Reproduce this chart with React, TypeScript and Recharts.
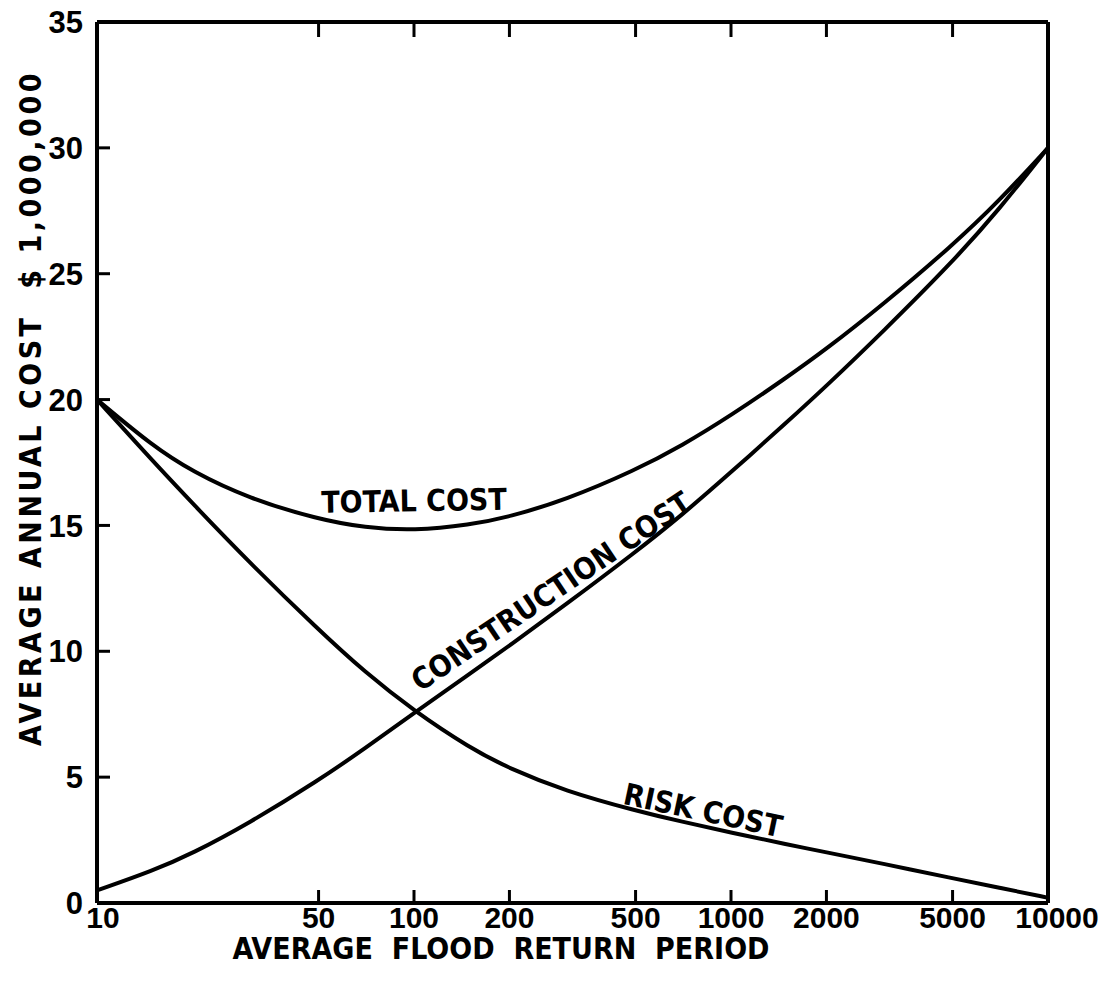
import React from 'react';
import { LineChart, Line, XAxis, YAxis, ReferenceDot, Label } from 'recharts';

const returnPeriod = [10, 15, 20, 30, 50, 70, 100, 150, 200, 300, 500, 700, 1000, 1500, 2000, 3000, 5000, 7000, 10000];
const totalCost = [20, 18.15, 17.14, 16.08, 15.24, 14.91, 14.79, 15.02, 15.34, 16.01, 17.2, 18.17, 19.37, 20.88, 22.01, 23.75, 26.13, 27.88, 30];
const constructionCost = [0.5, 1.28, 1.97, 3.15, 4.87, 6.14, 7.54, 9.11, 10.22, 11.84, 13.94, 15.41, 17.11, 19.1, 20.54, 22.67, 25.47, 27.54, 30];
const riskCost = [20, 17.55, 15.88, 13.57, 10.85, 9.17, 7.63, 6.16, 5.34, 4.45, 3.67, 3.23, 2.8, 2.33, 2.01, 1.57, 0.98, 0.61, 0.21];

const xTicks = [10, 50, 100, 200, 500, 1000, 2000, 5000, 10000];
const xInnerTicks = [50, 100, 200, 500, 1000, 2000, 5000];
const yTicks = [0, 5, 10, 15, 20, 25, 30, 35];
const yLeftInnerTicks = [5, 10, 15, 20, 25, 30];
const yRightInnerTicks = [5, 10, 15, 20, 25];

const curveLabels = [
  { text: 'TOTAL COST', x: 100, y: 16.0, angle: -1 },
  { text: 'CONSTRUCTION COST', x: 270, y: 12.4, angle: -34 },
  { text: 'RISK COST', x: 817, y: 3.7, angle: 12 },
];

const xTitle = 'AVERAGE  FLOOD  RETURN  PERIOD';
const yTitle = 'AVERAGE ANNUAL COST  $ 1,000,000';

const data = returnPeriod.map((p, i) => ({
  period: p,
  total: totalCost[i],
  construction: constructionCost[i],
  risk: riskCost[i],
}));

const DIGIT_FONT = '"Liberation Sans", Arial, sans-serif';
const LETTER_FONT = '"DejaVu Sans Condensed", "Liberation Sans Narrow", "DejaVu Sans", sans-serif';
const INK = '#000';

const labelShift: Record<number, number> = { 10: 6, 10000: 9 };

const BottomTick = (props: any) => {
  const { x, y, payload } = props;
  const v = payload.value;
  const inner = xInnerTicks.includes(v);
  return (
    <g>
      {inner && <line x1={x} y1={y} x2={x} y2={y - 13} stroke={INK} strokeWidth={3} />}
      <text x={x + (labelShift[v] || 0)} y={y + 3} dy="0.72em" textAnchor="middle" fontFamily={DIGIT_FONT} fontSize={30} fontWeight={700} fill={INK}>
        {String(v)}
      </text>
    </g>
  );
};

const LeftTick = (props: any) => {
  const { x, y, payload } = props;
  const v = payload.value;
  const inner = yLeftInnerTicks.includes(v);
  return (
    <g>
      {inner && <line x1={x} y1={y} x2={x + 13} y2={y} stroke={INK} strokeWidth={3} />}
      <text x={x - 14} y={y} dy="0.36em" textAnchor="end" fontFamily={DIGIT_FONT} fontSize={31} fontWeight={700} fill={INK}>
        {String(v)}
      </text>
    </g>
  );
};

const TopTick = (props: any) => {
  const { x, y } = props;
  return <line x1={x} y1={y} x2={x} y2={y + 15} stroke={INK} strokeWidth={3} />;
};

const RightTick = (props: any) => {
  const { x, y } = props;
  return <line x1={x} y1={y} x2={x - 15} y2={y} stroke={INK} strokeWidth={3} />;
};

const makeCurveLabel = (text: string, angle: number) => (props: any) => {
  const vb = props.viewBox || {};
  const cx = (vb.x || 0) + (vb.width || 0) / 2;
  const cy = (vb.y || 0) + (vb.height || 0) / 2;
  return (
    <text
      x={cx}
      y={cy}
      dy={11}
      textAnchor="middle"
      transform={`rotate(${angle}, ${cx}, ${cy})`}
      fontFamily={LETTER_FONT}
      fontWeight={700}
      fontSize={30}
      fill={INK}
    >
      {text}
    </text>
  );
};

const renderXTitle = () => (
  <text x={501} y={959} textAnchor="middle" fontFamily={LETTER_FONT} fontWeight={700} fontSize={30} fill={INK} xmlSpace="preserve" style={{ whiteSpace: 'pre' }}>
    {xTitle}
  </text>
);

const renderYTitle = () => (
  <text x={41} y={408} textAnchor="middle" transform="rotate(-90, 41, 408)" fontFamily={LETTER_FONT} fontWeight={700} fontSize={30} letterSpacing={3.5} fill={INK} xmlSpace="preserve" style={{ whiteSpace: 'pre' }}>
    {yTitle}
  </text>
);

const logAxisCommon = {
  dataKey: 'period',
  type: 'number' as const,
  scale: 'log' as const,
  domain: [10, 10000] as [number, number],
  allowDataOverflow: true,
  interval: 0 as const,
};

export default function App() {
  return (
    <div style={{ position: 'absolute', left: 0, top: 0, width: 1104, height: 990, background: '#fff' }}>
      <LineChart width={1104} height={990} data={data} margin={{ top: 22, right: 56, left: 0, bottom: 0 }}>
        <XAxis
          {...logAxisCommon}
          xAxisId={0}
          ticks={xTicks}
          height={87}
          axisLine={{ stroke: INK, strokeWidth: 4 }}
          tickLine={false}
          tickSize={0}
          tickMargin={0}
          tick={<BottomTick />}
        >
          <Label content={renderXTitle} />
        </XAxis>
        <XAxis
          {...logAxisCommon}
          xAxisId="top"
          orientation="top"
          mirror
          ticks={xInnerTicks}
          axisLine={{ stroke: INK, strokeWidth: 4 }}
          tickLine={false}
          tickSize={0}
          tickMargin={0}
          tick={<TopTick />}
        />
        <YAxis
          yAxisId={0}
          type="number"
          domain={[0, 35]}
          ticks={yTicks}
          width={97}
          interval={0}
          axisLine={{ stroke: INK, strokeWidth: 4 }}
          tickLine={false}
          tickSize={0}
          tickMargin={0}
          tick={<LeftTick />}
        >
          <Label content={renderYTitle} />
        </YAxis>
        <YAxis
          yAxisId="right"
          orientation="right"
          mirror
          type="number"
          domain={[0, 35]}
          ticks={yRightInnerTicks}
          interval={0}
          axisLine={{ stroke: INK, strokeWidth: 4 }}
          tickLine={false}
          tickSize={0}
          tickMargin={0}
          tick={<RightTick />}
        />
        <Line type="basis" dataKey="total" stroke={INK} strokeWidth={4} dot={false} isAnimationActive={false} />
        <Line type="basis" dataKey="construction" stroke={INK} strokeWidth={4} dot={false} isAnimationActive={false} />
        <Line type="basis" dataKey="risk" stroke={INK} strokeWidth={4} dot={false} isAnimationActive={false} />
        {curveLabels.map((l) => (
          <ReferenceDot key={l.text} x={l.x} y={l.y} r={0} fill="none" stroke="none" ifOverflow="visible">
            <Label content={makeCurveLabel(l.text, l.angle)} />
          </ReferenceDot>
        ))}
      </LineChart>
    </div>
  );
}
